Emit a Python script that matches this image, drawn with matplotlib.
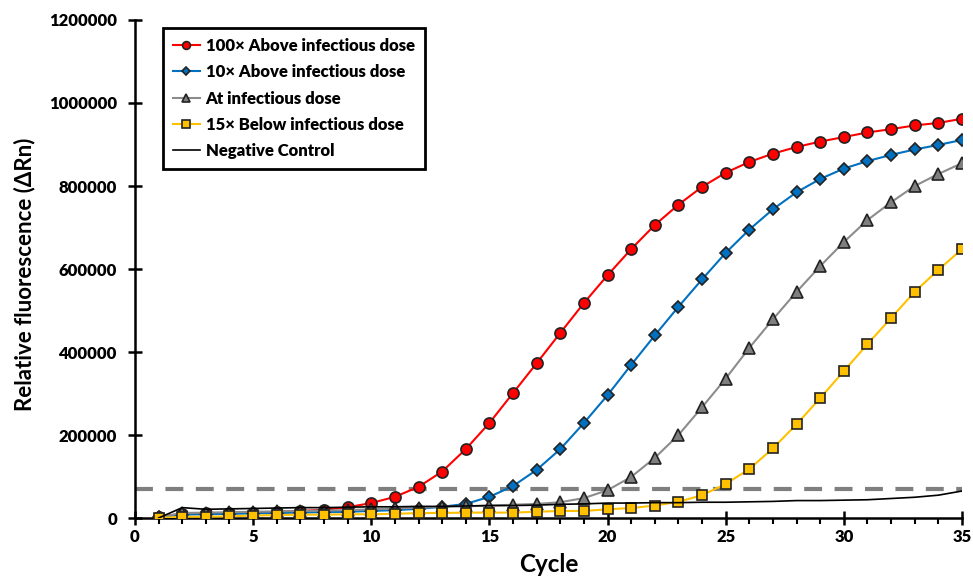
import matplotlib
matplotlib.use("Agg")
import matplotlib.pyplot as plt
from matplotlib.ticker import MultipleLocator, FuncFormatter

plt.rcParams['font.family'] = ['Lato', 'DejaVu Sans']
plt.rcParams['font.weight'] = 'bold'
plt.rcParams['axes.labelweight'] = 'bold'

cycles = list(range(1, 36))

above100 = [3000, 10000, 11000, 12000, 13000, 15000, 17000, 20000, 26000, 36000,
            51000, 75000, 112000, 166000, 229000, 301000, 373000, 446000, 518000, 585000,
            648000, 706000, 755000, 798000, 832000, 858000, 878000, 894000, 907000, 918000,
            929000, 937000, 946000, 952000, 962000]

above10 = [2000, 8000, 9000, 10000, 11000, 12000, 13000, 14000, 15000, 17000,
           19000, 22000, 27000, 34000, 51000, 77000, 116000, 166000, 229000, 296000,
           369000, 440000, 509000, 575000, 639000, 695000, 744000, 785000, 817000, 842000,
           860000, 875000, 888000, 899000, 911000]

at_dose = [2000, 12000, 13000, 14000, 15000, 16000, 17000, 18000, 19000, 21000,
           23000, 25000, 27000, 28000, 30000, 32000, 34000, 38000, 48000, 67000,
           99000, 145000, 200000, 267000, 336000, 410000, 479000, 545000, 607000, 665000,
           718000, 761000, 800000, 829000, 855000]

below15 = [0, 3000, 3000, 4000, 6000, 7000, 8000, 8000, 9000, 9000,
           10000, 12000, 12000, 13000, 13000, 13000, 15000, 17000, 17000, 21000,
           24000, 30000, 39000, 55000, 82000, 118000, 168000, 226000, 289000, 354000,
           419000, 482000, 545000, 598000, 648000]

negative = [0, 25000, 21000, 22000, 23000, 24000, 25000, 25000, 26000, 27000,
            27000, 28000, 28000, 29000, 30000, 30000, 31000, 33000, 34000, 36000,
            36000, 37000, 37000, 38000, 38000, 39000, 40000, 42000, 42000, 43000,
            44000, 47000, 50000, 55000, 65000]

threshold = 70000

labels = ["100\u00d7 Above infectious dose", "10\u00d7 Above infectious dose",
          "At infectious dose", "15\u00d7 Below infectious dose", "Negative Control"]

fig = plt.figure(figsize=(9.73, 5.78), dpi=100)
ax = fig.add_axes([0.1387, 0.1038, 0.8500, 0.8616])

ax.axhline(threshold, color='#7f7f7f', lw=3, dashes=(4.3, 3.0), zorder=1)

ax.plot(cycles, above100, color='#ff0000', lw=1.5, marker='o', ms=8,
        mfc='#ff0000', mec='#222222', mew=1.2, label=labels[0], zorder=2)
ax.plot(cycles, above10, color='#0070c0', lw=1.5, marker='D', ms=6,
        mfc='#0070c0', mec='#222222', mew=1.2, label=labels[1], zorder=3)
ax.plot(cycles, at_dose, color='#8c8c8c', lw=1.5, marker='^', ms=8,
        mfc='#7f7f7f', mec='#222222', mew=1.2, label=labels[2], zorder=4)
ax.plot(cycles, below15, color='#ffc000', lw=1.5, marker='s', ms=7.5,
        mfc='#ffc000', mec='#222222', mew=1.2, label=labels[3], zorder=5)
ax.plot(cycles, negative, color='black', lw=1.2, label=labels[4], zorder=6)

ax.set_xlim(0, 35)
ax.set_ylim(0, 1200000)
ax.xaxis.set_major_locator(MultipleLocator(5))
ax.xaxis.set_minor_locator(MultipleLocator(1))
ax.yaxis.set_major_locator(MultipleLocator(200000))
ax.yaxis.set_major_formatter(FuncFormatter(lambda v, p: f"{int(round(v))}"))

for s in ['top', 'right']:
    ax.spines[s].set_visible(False)
for s in ['left', 'bottom']:
    ax.spines[s].set_linewidth(1.8)

ax.tick_params(axis='x', which='major', direction='inout', length=10, width=1.8,
               labelsize=12, pad=3)
ax.tick_params(axis='x', which='minor', direction='out', length=4, width=1.5)
ax.tick_params(axis='y', which='major', direction='inout', length=10, width=1.8,
               labelsize=12, pad=8)

ax.set_xlabel("Cycle", fontsize=17.5, fontweight='bold', labelpad=6)
ax.set_ylabel("Relative fluorescence (\u0394Rn)", fontsize=16, fontweight='bold')
ax.yaxis.set_label_coords(-0.121, 0.49)

leg = ax.legend(loc='upper left', bbox_to_anchor=(0.034, 0.984), borderaxespad=0,
                fancybox=False, edgecolor='black', framealpha=1,
                prop={'weight': 'heavy', 'size': 12}, markerscale=0.7,
                handlelength=1.6, handletextpad=0.35, labelspacing=0.62,
                borderpad=0.6)
leg.get_frame().set_linewidth(2)
leg.set_zorder(10)

fig.canvas.draw()
for lab in ax.get_xticklabels() + ax.get_yticklabels():
    lab.set_fontweight('heavy')

fig.savefig("out.png", dpi=100)
